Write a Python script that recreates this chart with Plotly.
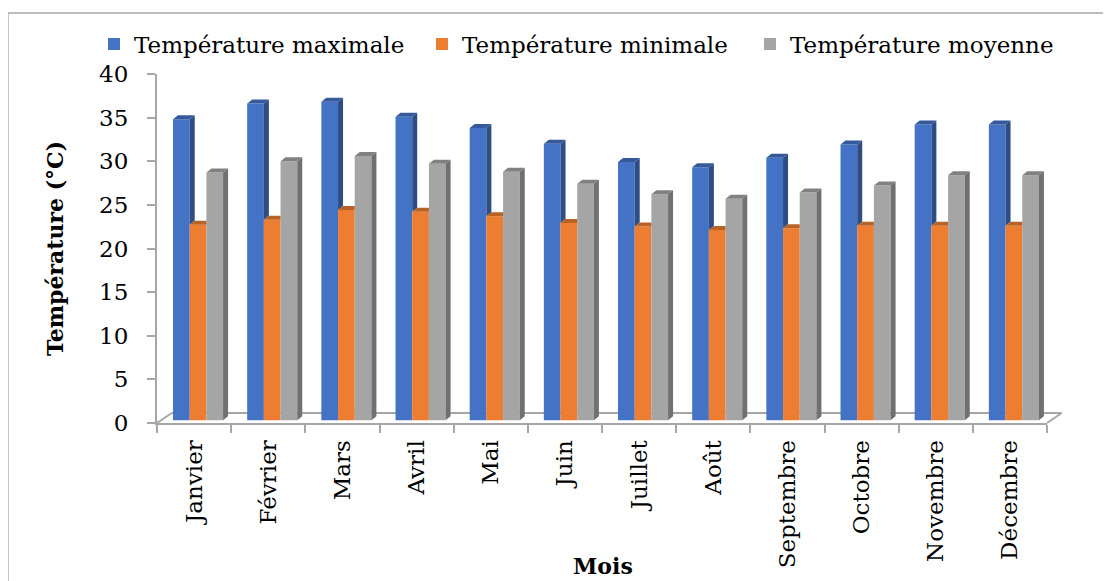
import plotly.graph_objects as go

# ---------------- data ----------------
mois = ["Janvier", "Février", "Mars", "Avril", "Mai", "Juin", "Juillet",
        "Août", "Septembre", "Octobre", "Novembre", "Décembre"]
temp_max = [34.5, 36.3, 36.5, 34.8, 33.5, 31.7, 29.6, 29.0, 30.1, 31.6, 33.9, 33.9]
temp_min = [22.4, 23.0, 24.1, 23.9, 23.4, 22.6, 22.2, 21.8, 22.0, 22.3, 22.3, 22.3]
temp_moy = [28.4, 29.7, 30.3, 29.4, 28.5, 27.1, 25.9, 25.4, 26.1, 26.9, 28.1, 28.1]
series_names = ["Température maximale", "Température minimale", "Température moyenne"]
y_ticks = [0, 5, 10, 15, 20, 25, 30, 35, 40]

# ---------------- styles ----------------
front_colors = ["#4472C4", "#ED7D31", "#A5A5A5"]
side_colors = ["#2E4D85", "#A15521", "#707070"]
top_colors = ["#35599A", "#B96226", "#818181"]
AXIS_COLOR = "#A6A6A6"
FONT = "DejaVu Serif"

# page geometry (the html body has an 8px margin)
PAGE_W, PAGE_H = 1111, 581
BODY = 8
W, H = PAGE_W - BODY, PAGE_H - BODY
PLOT_LEFT, PLOT_TOP = 157, 74          # screen px
plot_w, plot_h = 890, 349
ML = PLOT_LEFT - BODY
MT = PLOT_TOP - BODY
MR = W - ML - plot_w
MB = H - MT - plot_h

X_RANGE = [-0.5, len(mois) - 0.5]
Y_RANGE = [0, 40]
px_per_x = plot_w / (X_RANGE[1] - X_RANGE[0])
px_per_y = plot_h / (Y_RANGE[1] - Y_RANGE[0])


def paper_x(sx):
    return (sx - PLOT_LEFT) / plot_w


def paper_y(sy):
    return (PLOT_TOP + plot_h - sy) / plot_h


# pseudo-3D projection (pixels)
FLOOR_DX, FLOOR_DY = 14.7, 10.0
BAR_DEPTH = 0.27
SIDE_DX, SIDE_DY = 5.0, 4.0
BARGAP = 0.325

shift_x = BAR_DEPTH * FLOOR_DX / px_per_x
shift_y = BAR_DEPTH * FLOOR_DY / px_per_y
sdx = SIDE_DX / px_per_x
sdy = SIDE_DY / px_per_y
n_series = 3
bar_w = (1 - BARGAP) / n_series

values = [temp_max, temp_min, temp_moy]
xpos = [i + shift_x for i in range(len(mois))]

fig = go.Figure()

for s in range(n_series):
    fig.add_trace(go.Bar(
        x=xpos, y=values[s], base=shift_y, name=series_names[s],
        marker=dict(color=front_colors[s], line=dict(width=0)),
        hoverinfo="skip",
    ))

for s in range(n_series):
    sx, sy, tx, ty = [], [], [], []
    for i in range(len(mois)):
        v = values[s][i]
        xl = xpos[i] - n_series * bar_w / 2 + s * bar_w
        xr = xl + bar_w
        top = shift_y + v
        nxt = values[s + 1][i] if s + 1 < n_series else None
        bottom = shift_y + (nxt if nxt is not None else 0)
        if top > bottom:
            sx += [xr, xr + sdx, xr + sdx, xr, xr, None]
            sy += [bottom, bottom + sdy, top + sdy, top, bottom, None]
        if nxt is not None and nxt > v:
            tx += [xl, xl + sdx, xr, xr, xl, None]
        else:
            tx += [xl, xl + sdx, xr + sdx, xr, xl, None]
        ty += [top, top + sdy, top + sdy, top, top, None]
    fig.add_trace(go.Scatter(x=sx, y=sy, mode="lines", fill="toself",
                             fillcolor=side_colors[s],
                             line=dict(width=0, color=side_colors[s]),
                             showlegend=False, hoverinfo="skip"))
    fig.add_trace(go.Scatter(x=tx, y=ty, mode="lines", fill="toself",
                             fillcolor=top_colors[s],
                             line=dict(width=0, color=top_colors[s]),
                             showlegend=False, hoverinfo="skip"))

fdx = FLOOR_DX / plot_w
fdy = FLOOR_DY / plot_h
floor_line = dict(color=AXIS_COLOR, width=2)
shapes = [
    dict(type="line", xref="paper", yref="paper", x0=0, y0=0, x1=fdx, y1=fdy,
         line=floor_line, layer="below"),
    dict(type="line", xref="paper", yref="paper", x0=fdx, y0=fdy, x1=1 + fdx, y1=fdy,
         line=floor_line, layer="below"),
    dict(type="line", xref="paper", yref="paper", x0=1, y0=0, x1=1 + fdx, y1=fdy,
         line=floor_line, layer="below"),
    dict(type="rect", xref="paper", yref="paper",
         x0=paper_x(8), x1=paper_x(PAGE_W + 20),
         y0=paper_y(PAGE_H + 20), y1=paper_y(13),
         line=dict(color="#A6A6A6", width=1.3), layer="below"),
]

annotations = [
    dict(text="Mois", xref="paper", yref="paper",
         x=paper_x(603), y=paper_y(566), xanchor="center", yanchor="middle",
         showarrow=False,
         font=dict(family=FONT, size=22, weight="bold", color="black")),
]

fig.update_layout(
    width=W, height=H,
    margin=dict(l=ML, r=MR, t=MT, b=MB, autoexpand=False),
    paper_bgcolor="white", plot_bgcolor="white",
    barmode="group", bargap=BARGAP, bargroupgap=0,
    font=dict(family=FONT, color="black"),
    showlegend=True,
    legend=dict(orientation="h", x=paper_x(94), xanchor="left",
                y=paper_y(44), yanchor="middle",
                font=dict(family=FONT, size=23, color="black"),
                entrywidth=283, entrywidthmode="pixels",
                bgcolor="rgba(0,0,0,0)", traceorder="normal"),
    shapes=shapes,
    annotations=annotations,
    xaxis=dict(
        range=X_RANGE, tickmode="array", tickvals=list(range(len(mois))),
        ticktext=mois, ticks="", tickangle=-90,
        tickfont=dict(family=FONT, size=23, color="black"),
        ticklabelstandoff=6,
        minor=dict(tickmode="array", tickvals=[i - 0.5 for i in range(len(mois) + 1)],
                   ticks="outside", ticklen=8, tickcolor=AXIS_COLOR, tickwidth=2),
        showline=True, linecolor=AXIS_COLOR, linewidth=2,
        showgrid=False, zeroline=False,
    ),
    yaxis=dict(
        range=Y_RANGE, tickmode="array", tickvals=y_ticks,
        ticks="outside", ticklen=8, tickcolor=AXIS_COLOR, tickwidth=2,
        tickfont=dict(family=FONT, size=23, color="black"),
        ticklabelstandoff=14,
        showline=True, linecolor=AXIS_COLOR, linewidth=2,
        showgrid=False, zeroline=False,
        title=dict(text="Température (°C)",
                   font=dict(family=FONT, size=22, weight="bold", color="black"),
                   standoff=29),
    ),
)

fig.write_html("out.html")
